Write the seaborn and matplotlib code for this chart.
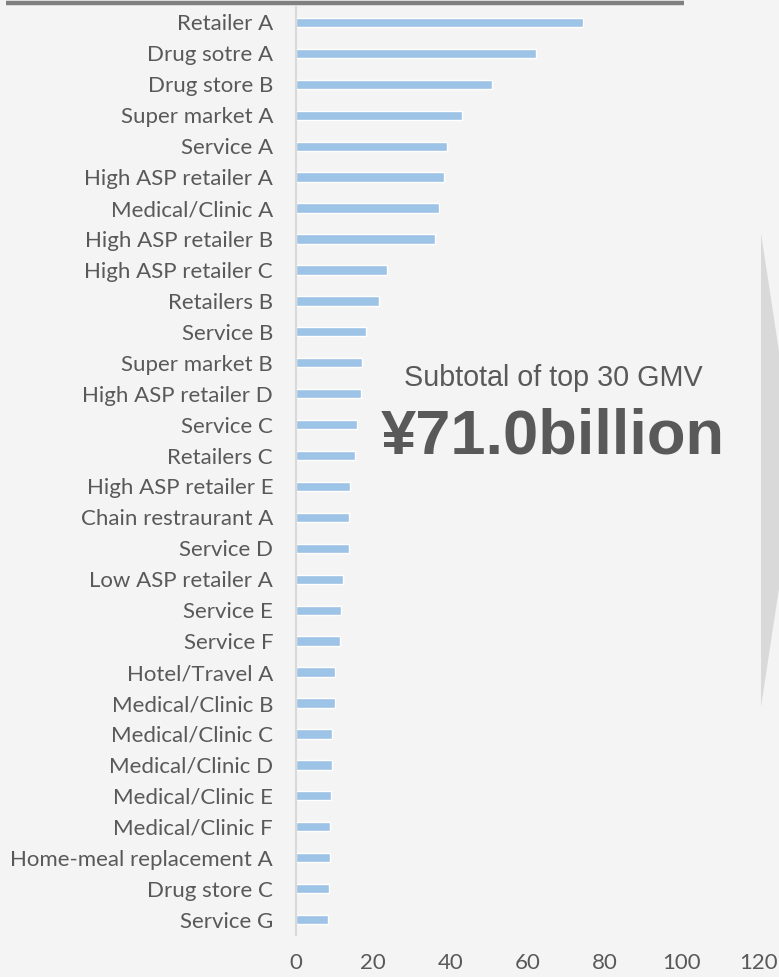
import matplotlib
matplotlib.use("Agg")
import matplotlib.pyplot as plt
from matplotlib.patches import Polygon
from matplotlib.lines import Line2D
import seaborn as sns
import pandas as pd

# Top 30 merchants by GMV (100M yen)
merchants = [
    "Retailer A", "Drug sotre A", "Drug store B", "Super market A", "Service A",
    "High ASP retailer A", "Medical/Clinic A", "High ASP retailer B", "High ASP retailer C",
    "Retailers B", "Service B", "Super market B", "High ASP retailer D", "Service C",
    "Retailers C", "High ASP retailer E", "Chain restraurant A", "Service D",
    "Low ASP retailer A", "Service E", "Service F", "Hotel/Travel A", "Medical/Clinic B",
    "Medical/Clinic C", "Medical/Clinic D", "Medical/Clinic E", "Medical/Clinic F",
    "Home-meal replacement A", "Drug store C", "Service G",
]
gmv = [
    74.5, 62.2, 50.7, 43.1, 39.1, 38.4, 37.1, 36.1, 23.7, 21.5,
    18.2, 17.0, 16.8, 15.9, 15.2, 13.9, 13.7, 13.7, 12.2, 11.6,
    11.4, 10.1, 10.1, 9.4, 9.4, 9.1, 8.8, 8.8, 8.5, 8.3,
]
x_ticks = [0, 20, 40, 60, 80, 100, 120]
subtitle = "Subtotal of top 30 GMV"
headline = "¥71.0billion"

df = pd.DataFrame({"merchant": merchants, "gmv": gmv})

BG = "#F3F4F3"
TEXT = "#595959"
W, H = 779, 977

sns.set_theme(style="white")
plt.rcParams["font.family"] = ["Lato", "DejaVu Sans"]

fig = plt.figure(figsize=(W / 100, H / 100), dpi=100, facecolor=BG)

# big grey chevron on the right edge
fig.patches.append(Polygon(
    [(761 / W, 1 - 233 / H), (797 / W, 1 - 470 / H), (761 / W, 1 - 707 / H)],
    closed=True, transform=fig.transFigure, facecolor="#D9D9D9",
    edgecolor="none", zorder=0))

# thick rule across the top
fig.add_artist(Line2D([6 / W, 684 / W], [1 - 3 / H, 1 - 3 / H],
                      transform=fig.transFigure, color="#808080", lw=3.2,
                      solid_capstyle="butt"))

left, right = 296, 759
top, bottom = 7, 935
ax = fig.add_axes([left / W, 1 - bottom / H, (right - left) / W, (bottom - top) / H])
ax.set_facecolor(BG)

sns.barplot(data=df, x="gmv", y="merchant", orient="h", color="#9DC3E6",
            width=0.3, edgecolor="white", linewidth=1.0, saturation=1, ax=ax)

ax.set_xlim(0, 120)
ax.set_ylim(len(merchants) - 0.5, -0.5)
ax.set_xticks(x_ticks)
ax.set_xticklabels([str(t) for t in x_ticks])
ax.set_xlabel("")
ax.set_ylabel("")
ax.tick_params(axis="y", length=0, pad=16.5, labelsize=16, labelcolor=TEXT)
ax.tick_params(axis="x", length=0, pad=13, labelsize=16, labelcolor=TEXT)
for s in ["top", "right", "bottom"]:
    ax.spines[s].set_visible(False)
ax.spines["left"].set_color("#D9D9D9")
ax.spines["left"].set_linewidth(1.5)

fig.text(553 / W, 1 - 378 / H, subtitle, ha="center", va="center",
         fontsize=20.7, color=TEXT, family=["Liberation Sans", "DejaVu Sans"])
fig.text(553 / W, 1 - 437 / H, headline, ha="center", va="center",
         fontsize=45.5, fontweight="bold", color=TEXT,
         family=["Liberation Sans", "DejaVu Sans"])

fig.savefig("out.png", dpi=100, facecolor=BG)
